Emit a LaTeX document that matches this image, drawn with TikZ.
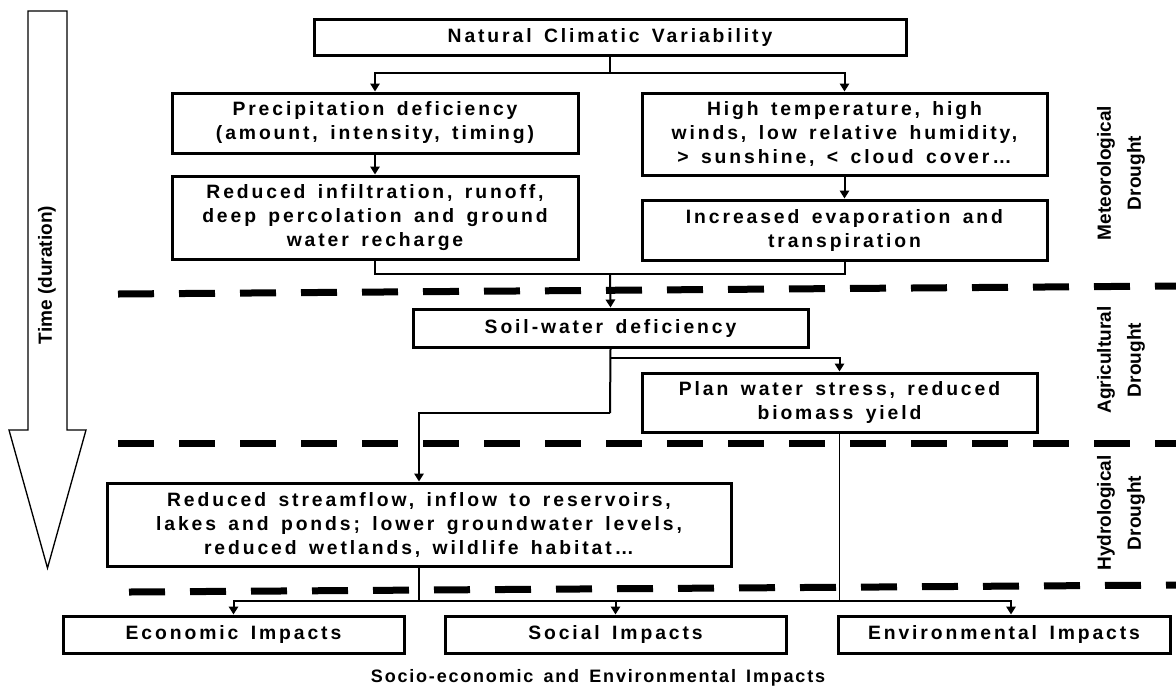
\documentclass[tikz,border=0pt]{standalone}
\usepackage{fontspec}
\setmainfont{Liberation Sans}
\newfontfamily\spacedfont{Liberation Sans}[LetterSpace=15,WordSpace=1.5]
\usetikzlibrary{arrows.meta}
\tikzstyle{box} = [draw, line width=2.25pt, fill=white, align=center, inner sep=0pt,
    font=\spacedfont\bfseries\fontsize{14.5}{18}\selectfont]
\tikzstyle{side} = [rotate=90, align=center, inner sep=0pt,
    font=\bfseries\fontsize{14.3}{22.5}\selectfont]
\tikzstyle{link} = [line width=1.5pt, -{Triangle[width=7pt,length=6pt]}]
\tikzstyle{zone} = [line width=5.25pt, dash pattern=on 27pt off 18.75pt]
\tikzstyle{timearrow} = [line width=1pt, fill=white]
\newcommand{\stage}[6]{
    \node (#1) at (#2,#3) [box, minimum width=#4*0.75pt, minimum height=#5*0.75pt] {#6};
}
\newcommand{\drought}[4]{
    \node (#1) at (#2,#3) [side] {#4};
}
\begin{document}
\begin{tikzpicture}[x=0.75pt, y=-0.75pt]
	\useasboundingbox (0,0) rectangle (1176,690);
	
	\draw[timearrow] (28,11) -- (67,11) -- (67,430) -- (86,430) -- (47.5,568) -- (9,430) -- (28,430) -- cycle;
	\node (time) at (47,275) [side] {Time (duration)};
	
	\draw[zone] (118,294) -- (1176,286);
	\draw[zone] (118,443) -- (1176,443);
	\draw[zone] (129,592) -- (1176,585);
	
	\stage{climate}{610}{37}{592}{36}{Natural Climatic Variability}
	\stage{precip}{375}{123}{406}{60}{Precipitation deficiency\\(amount, intensity, timing)}
	\stage{infilt}{375}{217.5}{406}{83}{Reduced infiltration, runoff,\\deep percolation and ground\\water recharge}
	\stage{hightemp}{844.5}{134}{405}{82}{High temperature, high\\winds, low relative humidity,\\> sunshine, < cloud cover…}
	\stage{evap}{844.5}{230}{405}{60}{Increased evaporation and\\transpiration}
	\stage{soil}{610.5}{328}{395}{38}{Soil-water deficiency}
	\stage{plant}{839.5}{402.5}{395}{59}{Plan water stress, reduced\\biomass yield}
	\stage{stream}{419}{524.5}{624}{83}{Reduced streamflow, inflow to reservoirs,\\lakes and ponds; lower groundwater levels,\\reduced wetlands, wildlife habitat…}
	\stage{econ}{233.5}{634.5}{341}{37}{Economic Impacts}
	\stage{social}{615.5}{634.5}{341}{37}{Social Impacts}
	\stage{environ}{1004}{634.5}{332}{37}{Environmental Impacts}
	
	\node (impacts) at (598,678) [font=\spacedfont\bfseries\fontsize{13.5}{16}\selectfont\addfontfeature{LetterSpace=10}] {Socio-economic and Environmental Impacts};
	
	\drought{meteo}{1121}{173}{Meteorological\\Drought}
	\drought{agri}{1121}{360}{Agricultural\\Drought}
	\drought{hydro}{1121}{513}{Hydrological\\Drought}
	
	\coordinate (split) at (610,73);
	\coordinate (merge) at (610,274);
	\coordinate (bend) at (610,413);
	\coordinate (fork) at (610,358);
	\coordinate (bus) at (419,601);
	
	\draw[line width=1.5pt] (climate.south) -- (split);
	\draw[link] (split) -| (precip.north);
	\draw[link] (split) -| (hightemp.north);
	\draw[link] (precip) -- (infilt);
	\draw[link] (hightemp) -- (evap);
	\draw[line width=1.5pt] (infilt.south) |- (merge) -| (evap.south);
	\draw[link] (merge) -- (soil.north);
	\draw[line width=1.5pt] (soil.south) -- (bend);
	\draw[link] (bend) -| (stream.north);
	\draw[link] (fork) -| (plant.north);
	\draw[line width=1.5pt] (stream.south) -- (bus);
	\draw[line width=0.75pt] (plant.south) -- (plant.south |- bus);
	\draw[link] (bus) -| (econ.north);
	\draw[link] (bus) -| (social.north);
	\draw[link] (bus) -| ([xshift=5.25pt]environ.north);
\end{tikzpicture}
\end{document}
